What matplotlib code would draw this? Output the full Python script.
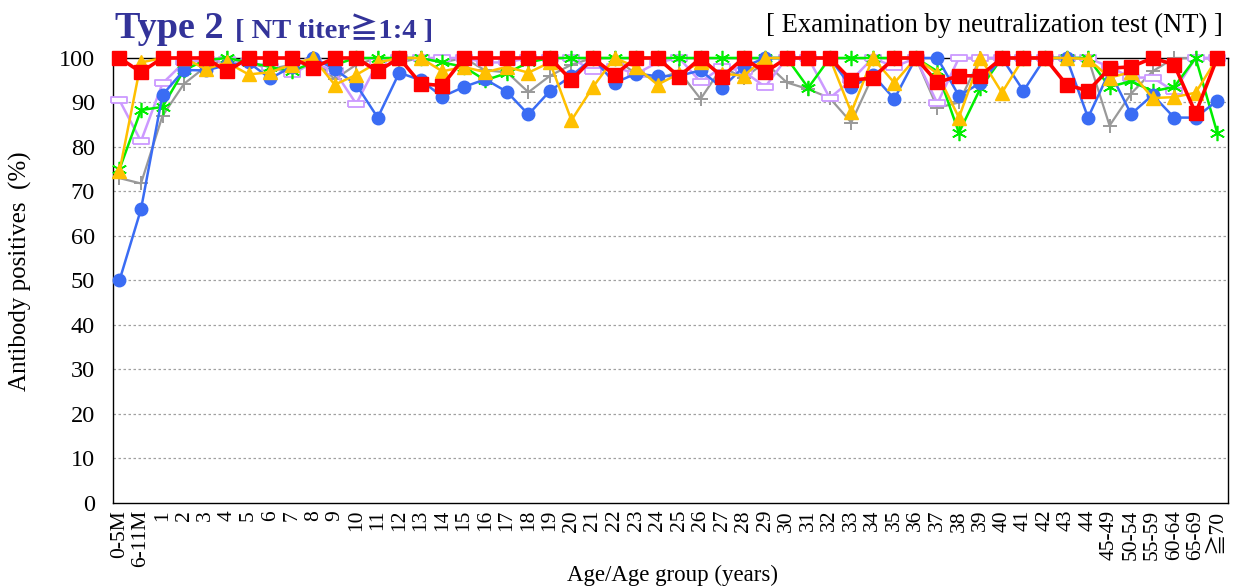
import matplotlib
matplotlib.use("Agg")
import matplotlib.pyplot as plt

# serif first, CJK family only as fallback for the ≧ sign
plt.rcParams["font.family"] = ["Liberation Serif", "DejaVu Serif", "Noto Sans CJK JP"]

age_labels = (["0-5M", "6-11M"] + [str(a) for a in range(1, 45)]
              + ["45-49", "50-54", "55-59", "60-64", "65-69", "≧70"])

gray_vals = [73, 71.8, 87, 94.2, 98, 100, 99, 97.5, 98.5, 100, 95.2, 98.5, 100, 99,
             100, 99, 100, 97.2, 96.8, 92.3, 96, 98.5, 100, 100, 96.4, 95.2, 97, 90.8,
             98, 95.5, 99, 94.5, 93, 91, 85.5, 96, 100, 100, 88.8, 90, 100, 100, 100,
             100, 100, 100, 84.8, 92, 97, 100, 100, 100]
lavender_vals = [90.5, 81.3, 94.3, 99, 99.5, 99.5, 99, 98, 96.3, 99, 97, 89.7, 99, 100,
                 100, 100, 100, 99, 99, 100, 100, 100, 97, 98, 96.4, 99, 100, 94.6, 98,
                 97, 93.5, 100, 100, 91, 95, 100, 98, 100, 89.8, 100, 100, 100, 100,
                 100, 100, 100, 98, 95.6, 95.6, 92.5, 100, 100]
green_vals = [75, 88.3, 89, 97.3, 99.5, 100, 99, 98, 97, 99, 98.5, 100, 100, 100, 100,
              99, 98, 95, 96.6, 99, 100, 100, 100, 100, 100, 100, 100, 100, 100, 100,
              100, 100, 93.3, 100, 100, 100, 100, 100, 97, 83.2, 93.2, 100, 100, 100,
              100, 100, 93.5, 94.8, 92.5, 93.5, 100, 83.2]
blue_vals = [50, 66, 91.7, 97.3, 97.2, 98.4, 99, 95.4, 98, 100, 97.5, 94, 86.6, 96.7,
             95, 91.3, 93.5, 95.2, 92.4, 87.3, 92.6, 96, 100, 94.4, 96.5, 95.9, 96,
             97.2, 93.3, 98, 100, 100, 100, 100, 93.4, 96.2, 90.8, 100, 100, 91.5,
             94.4, 100, 92.6, 100, 100, 86.6, 97, 87.4, 91.7, 86.6, 86.6, 90.4]
yellow_vals = [74.5, 99, 100, 100, 97.5, 99, 96.3, 96.8, 98.5, 100, 94, 96.2, 99, 100,
               100, 97, 98, 96.8, 98, 96.7, 99, 86, 93.5, 100, 98, 94, 96.5, 99, 96.5,
               96, 100, 100, 100, 100, 87.8, 100, 94.4, 100, 96.5, 86.6, 100, 92.2,
               100, 100, 100, 99.8, 95.6, 96.8, 91, 91.2, 92.2, 100]
red_vals = [100, 96.8, 100, 100, 100, 97, 100, 100, 100, 97.8, 100, 100, 97, 100, 94.2,
            93.8, 100, 100, 100, 100, 100, 95, 100, 96.2, 100, 100, 95.8, 100, 95.8,
            100, 96.8, 100, 100, 100, 95, 95.5, 100, 100, 94.5, 96, 96, 100, 100, 100,
            94, 92.6, 97.7, 98, 100, 98.5, 87.6, 100]

y_ticks = list(range(0, 101, 10))

# flat open box marker for the lavender series
box = [(-1, -0.38), (1, -0.38), (1, 0.38), (-1, 0.38), (-1, -0.38)]

fig = plt.figure(figsize=(12.35, 5.88), dpi=100)
ax = fig.add_axes([0.0915, 0.1446, 0.9028, 0.7568])
x = list(range(len(age_labels)))

ax.plot(x, gray_vals, color="#999999", lw=1.6, marker="+", ms=10, mew=1.4, clip_on=False, zorder=3)
ax.plot(x, lavender_vals, color="#cc99ff", lw=1.8, marker=box, ms=11, mfc="white",
        mec="#cc99ff", mew=1.3, clip_on=False, zorder=4)
ax.plot(x, green_vals, color="#00ee00", lw=1.8, marker=(6, 2, 0), ms=11, mew=1.2, clip_on=False, zorder=5)
ax.plot(x, blue_vals, color="#3a6cf4", lw=1.8, marker="o", ms=9, clip_on=False, zorder=6)
ax.plot(x, yellow_vals, color="#ffc000", lw=1.8, marker="^", ms=10, clip_on=False, zorder=7)
ax.plot(x, red_vals, color="#ff0000", lw=2.6, marker="s", ms=9.5, clip_on=False, zorder=8)

ax.set_xlim(-0.3, 51.5)
ax.set_ylim(0, 100)
ax.set_yticks(y_ticks)
ax.set_yticklabels([str(t) for t in y_ticks], fontsize=17.5)
ax.set_xticks(x)
ax.set_xticklabels(age_labels, rotation=90, fontsize=15.5)
ax.tick_params(axis="y", length=0, pad=13)
ax.tick_params(axis="x", length=0, pad=5)
for t in y_ticks[1:-1]:
    ax.axhline(t, color="#a0a0a0", lw=0.9, ls=(0, (2, 2)), zorder=1)
for s in ax.spines.values():
    s.set_linewidth(1.0)
    s.set_color("black")

ax.set_ylabel("Antibody positives  (%)", fontsize=18)
ax.yaxis.set_label_coords(-0.073, 0.52)
ax.set_xlabel("Age/Age group (years)", fontsize=16.5)
ax.xaxis.set_label_coords(0.502, -0.139)

fig.text(0.093, 0.935, "Type 2", fontsize=27.5, fontweight="bold", color="#333399", va="baseline")
fig.text(0.19, 0.935, "[ NT titer≧1:4 ]", fontsize=20.5, fontweight="bold", color="#333399",
         va="baseline")
fig.text(0.99, 0.945, "[ Examination by neutralization test (NT) ]", fontsize=19.2,
         ha="right", va="baseline")

fig.savefig("out.png", dpi=100)
